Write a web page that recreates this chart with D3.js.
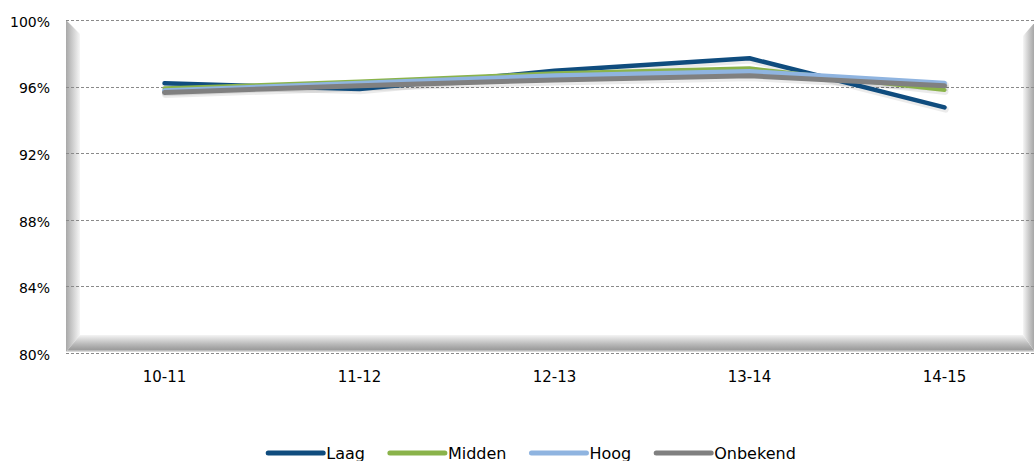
<!DOCTYPE html>
<html>
<head>
<meta charset="utf-8">
<script src="https://cdn.jsdelivr.net/npm/d3@7"></script>
<style>
  html, body { margin: 0; padding: 0; background: #fff; overflow: hidden; }
  svg { display: block; font-family: "DejaVu Sans", Verdana, sans-serif; }
</style>
</head>
<body>
<svg id="chart" width="1034" height="461"></svg>
<script>
const categories = ["10-11", "11-12", "12-13", "13-14", "14-15"];
const seriesNames = ["Laag", "Midden", "Hoog", "Onbekend"];
const laag     = [96.2, 95.85, 96.95, 97.7, 94.75];
const midden   = [95.9, 96.3, 96.8, 97.1, 95.8];
const hoog     = [95.75, 96.2, 96.65, 96.9, 96.2];
const onbekend = [95.65, 96.05, 96.4, 96.65, 96.05];
const yTicks = [80, 84, 88, 92, 96, 100];
const colors = ["#0f4c7e", "#8ab34a", "#8fb4e0", "#808080"];
const widths = [4.5, 4, 5, 5];

(function () {
const series = [laag, midden, hoog, onbekend].map((v, i) => ({ name: seriesNames[i], values: v, color: colors[i], width: widths[i] }));

const svg = d3.select("#chart");
const W = 1034;
const mLeft = 66, mTop = 20, plotRight = 1042, mBottom = 353;

const x = d3.scaleBand().domain(categories).range([mLeft + 1, plotRight]);
const xc = c => x(c) + x.bandwidth() / 2;
const y = d3.scaleLinear().domain([80, 100]).range([mBottom, mTop]);

const defs = svg.append("defs");
function lg(id, x1, y1, x2, y2, stops) {
  const g = defs.append("linearGradient").attr("id", id)
    .attr("x1", x1).attr("y1", y1).attr("x2", x2).attr("y2", y2);
  stops.forEach(s => g.append("stop").attr("offset", s[0]).attr("stop-color", s[1]));
}
lg("gLeft", 0, 0, 1, 0, [[0, "#a8a8a8"], [0.35, "#c4c4c4"], [1, "#f6f6f6"]]);
lg("gBottom", 0, 0, 0, 1, [[0, "#f4f4f4"], [0.55, "#b8b8b8"], [0.85, "#9c9c9c"], [1, "#e8e8e8"]]);
lg("gRight", 0, 0, 1, 0, [[0, "#f6f6f6"], [0.6, "#c0c0c0"], [1, "#a0a0a0"]]);

// Bevelled plot-area frame
const fx0 = mLeft, fy0 = mTop, fx1 = 1035, fy1 = 352;
const bl = 14, bb = 17, br = 12, bt = 14;
const ix0 = fx0 + bl, iy0 = fy0 + bt, ix1 = fx1 - br, iy1 = fy1 - bb;
const frame = svg.append("g");
frame.append("rect").attr("x", fx0).attr("y", fy0).attr("width", fx1 - fx0).attr("height", fy1 - fy0).attr("fill", "#ffffff");
frame.append("path").attr("d", `M${fx0},${fy0}L${ix0},${iy0}L${ix0},${iy1}L${fx0},${fy1}Z`).attr("fill", "url(#gLeft)");
frame.append("path").attr("d", `M${fx0},${fy1}L${ix0},${iy1}L${ix1},${iy1}L${fx1},${fy1}Z`).attr("fill", "url(#gBottom)");
frame.append("path").attr("d", `M${fx1},${fy0 + 2}L${fx1},${fy1}L${ix1},${iy1}L${ix1},${iy0 + 2}Z`).attr("fill", "url(#gRight)");

// Gridlines
svg.append("g").selectAll("line").data(yTicks).join("line")
  .attr("x1", mLeft).attr("x2", W)
  .attr("y1", d => Math.round(y(d)) + 0.5).attr("y2", d => Math.round(y(d)) + 0.5)
  .attr("stroke", "#8a8a8a").attr("stroke-width", 1).attr("stroke-dasharray", "3,2");

// Y axis labels
const yAxis = d3.axisLeft(y).tickValues(yTicks).tickFormat(d => d + "%").tickSize(0).tickPadding(0);
const yg = svg.append("g").attr("transform", `translate(${mLeft - 16},0)`).call(yAxis);
yg.select(".domain").remove();
yg.selectAll("text").attr("font-size", 14).attr("font-family", "DejaVu Sans, sans-serif").attr("fill", "#000").attr("dy", "0.45em");

// X axis labels
const xAxis = d3.axisBottom(x).tickSize(0).tickPadding(0);
const xg = svg.append("g").attr("transform", `translate(0,${mBottom})`).call(xAxis);
xg.select(".domain").remove();
xg.selectAll("text").attr("font-size", 15).attr("font-family", "DejaVu Sans, sans-serif").attr("fill", "#000").attr("dy", 0).attr("y", 29);

// Lines
const line = d3.line().x((d, i) => xc(categories[i])).y(d => y(d));
const lg2 = svg.append("g");
series.forEach(s => {
  lg2.append("path").datum(s.values)
    .attr("d", line)
    .attr("fill", "none")
    .attr("stroke", "rgba(0,0,0,0.08)")
    .attr("stroke-width", s.width + 2)
    .attr("transform", "translate(1,2)")
    .attr("stroke-linecap", "round").attr("stroke-linejoin", "round");
});
series.forEach(s => {
  lg2.append("path").datum(s.values)
    .attr("d", line)
    .attr("fill", "none")
    .attr("stroke", s.color)
    .attr("stroke-width", s.width)
    .attr("stroke-linecap", "round").attr("stroke-linejoin", "round");
});

// Legend
const legY = 453, lineLen = 55, textGap = 3, itemGap = 25;
const leg = svg.append("g");
const items = [];
series.forEach(s => {
  const g = leg.append("g");
  g.append("line").attr("x1", 0).attr("x2", lineLen).attr("y1", 0).attr("y2", 0)
    .attr("stroke", s.color).attr("stroke-width", 5).attr("stroke-linecap", "round");
  const t = g.append("text").attr("x", lineLen + textGap).attr("y", 5.5)
    .attr("font-size", 16).attr("fill", "#000").text(s.name);
  const w = lineLen + textGap + t.node().getComputedTextLength();
  items.push({ g, w });
});
const total = d3.sum(items, d => d.w) + itemGap * (items.length - 1);
let start = 532 - total / 2;
items.forEach(it => {
  it.g.attr("transform", `translate(${start},${legY})`);
  start += it.w + itemGap;
});
})();
</script>
</body>
</html>
